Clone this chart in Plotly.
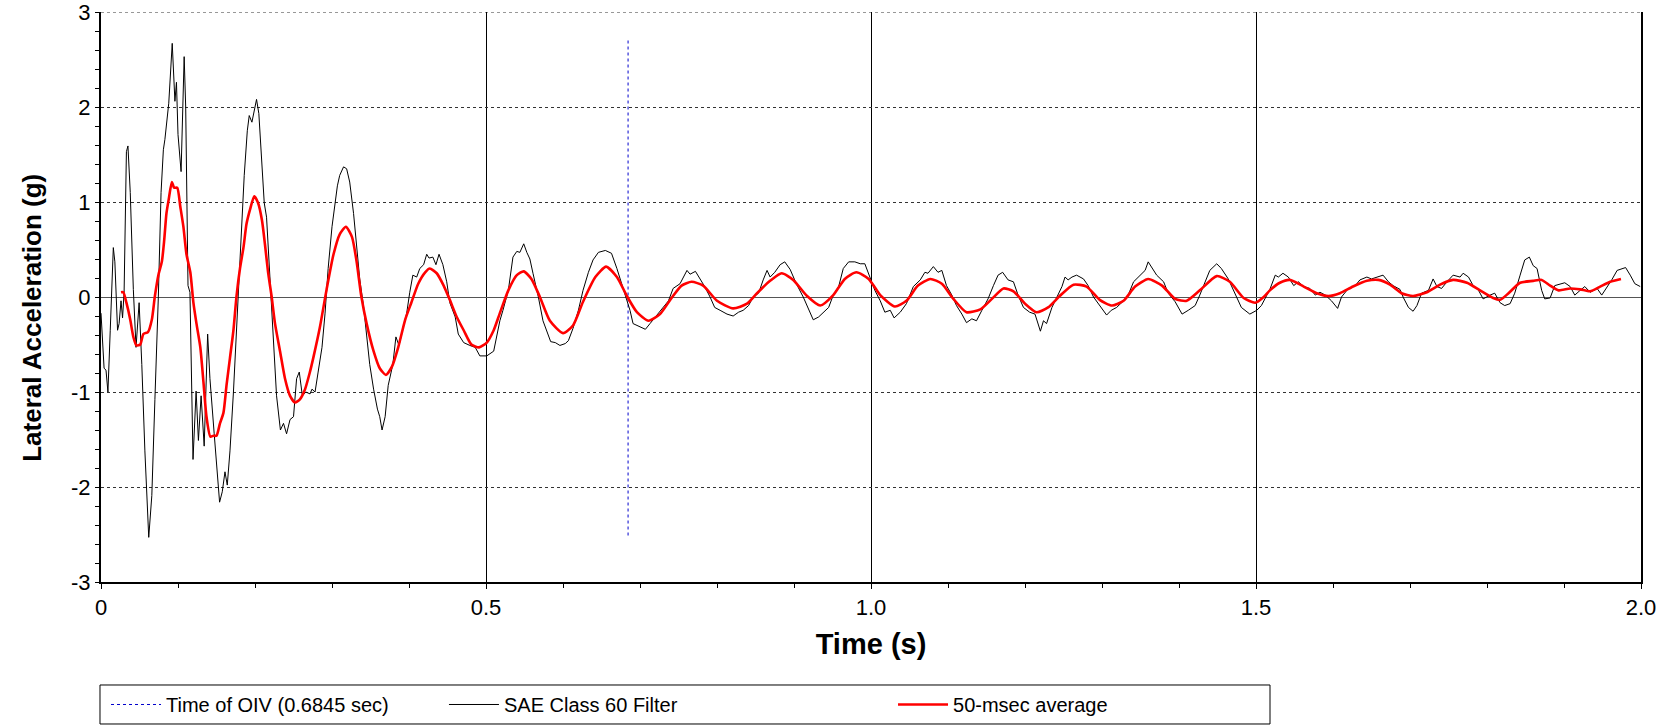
import plotly.graph_objects as go

# ---------------- data ----------------
oiv_time = 0.6845
oiv_y = [2.7, -2.52]

sae_t = [
    0.000, 0.002, 0.004, 0.0065, 0.009, 0.012, 0.016, 0.018, 0.0215, 0.0235, 0.026, 0.028, 0.030,
    0.033, 0.035, 0.038, 0.042, 0.0455, 0.0495, 0.053, 0.057, 0.062, 0.066, 0.070, 0.0745, 0.078,
    0.081, 0.083, 0.085, 0.088, 0.0925, 0.096, 0.098, 0.100, 0.104, 0.108, 0.110, 0.113, 0.1155,
    0.1195, 0.1235, 0.1265, 0.130, 0.134, 0.1385, 0.1415, 0.147, 0.150, 0.154, 0.1575, 0.161,
    0.164, 0.1675, 0.172, 0.176, 0.1805, 0.186, 0.190, 0.1925, 0.196, 0.199, 0.202, 0.205, 0.209,
    0.212, 0.215, 0.2195, 0.224, 0.228, 0.233, 0.237, 0.241, 0.2455, 0.250, 0.254, 0.2575, 0.2615,
    0.266, 0.2715,
    0.274, 0.278, 0.282, 0.287, 0.291, 0.295, 0.300, 0.304, 0.307, 0.310, 0.315, 0.319, 0.323,
    0.328, 0.332, 0.336, 0.341, 0.345, 0.349, 0.354, 0.359, 0.362, 0.365, 0.369, 0.373, 0.379,
    0.383, 0.387, 0.392, 0.397, 0.401, 0.405, 0.410, 0.414, 0.419, 0.423, 0.426, 0.431, 0.435,
    0.439, 0.444, 0.449, 0.453, 0.460, 0.464, 0.471, 0.479, 0.486, 0.492, 0.501, 0.510, 0.514,
    0.518,
    0.522, 0.529, 0.535, 0.540, 0.544, 0.549, 0.553, 0.557, 0.561, 0.568, 0.574, 0.581, 0.584,
    0.590, 0.596, 0.603, 0.607, 0.613, 0.620, 0.626, 0.633, 0.639, 0.646, 0.655, 0.663, 0.670,
    0.676, 0.683, 0.687, 0.691, 0.700, 0.707, 0.713, 0.720, 0.728, 0.737, 0.743, 0.752, 0.761,
    0.765, 0.772, 0.778, 0.784, 0.791, 0.797, 0.804, 0.813, 0.821, 0.828, 0.834, 0.841, 0.847,
    0.854, 0.860, 0.865, 0.869, 0.875, 0.882, 0.888, 0.895, 0.903, 0.912, 0.919, 0.925, 0.932,
    0.938, 0.945, 0.951, 0.958, 0.964, 0.971, 0.979, 0.986, 0.992, 0.999, 1.005, 1.012,
    1.018, 1.025, 1.030, 1.038, 1.046, 1.055, 1.064, 1.070, 1.074, 1.081, 1.087, 1.092, 1.098,
    1.105, 1.111, 1.118, 1.124, 1.131, 1.137, 1.144, 1.152, 1.159, 1.165, 1.171, 1.178, 1.185,
    1.191, 1.198, 1.206, 1.213, 1.217, 1.220, 1.224, 1.228, 1.235, 1.241, 1.248, 1.252, 1.256,
    1.261, 1.267, 1.276, 1.282, 1.289, 1.297, 1.306, 1.312, 1.319, 1.328, 1.334, 1.341, 1.349,
    1.356, 1.360, 1.365, 1.371, 1.380, 1.386, 1.395, 1.404, 1.412, 1.421, 1.427, 1.434, 1.440,
    1.449, 1.455, 1.464, 1.473, 1.481, 1.492, 1.501, 1.507, 1.512, 1.518,
    1.525, 1.529, 1.535, 1.542, 1.549, 1.555, 1.562, 1.570, 1.577, 1.583, 1.590, 1.598, 1.606,
    1.611, 1.620, 1.629, 1.635, 1.644, 1.650, 1.657, 1.665, 1.672, 1.678, 1.687, 1.691, 1.698,
    1.704, 1.709, 1.715, 1.724, 1.730, 1.735, 1.741, 1.748, 1.756, 1.765, 1.769, 1.776, 1.782,
    1.789, 1.795, 1.804, 1.810, 1.817, 1.823, 1.830, 1.836, 1.843, 1.849, 1.855, 1.860, 1.865,
    1.871, 1.875, 1.882, 1.888, 1.895, 1.901, 1.908, 1.914, 1.921, 1.927, 1.934, 1.943, 1.949,
    1.955, 1.962, 1.969, 1.975, 1.980, 1.986, 1.992, 1.999,
]
sae_g = [
    -0.17, -0.53, -0.75, -0.77, -1.00, -0.35, 0.52, 0.37, -0.35, -0.28, -0.04, -0.22, 0.05,
    1.53, 1.59, 1.10, 0.08, -0.53, -0.06, -0.71, -1.62, -2.53, -2.09, -1.08, 0.01, 1.10,
    1.55, 1.66, 1.82, 2.04, 2.67, 2.06, 2.26, 1.71, 1.32, 2.53, 2.00, 0.12, 0.05,
    -1.71, -0.99, -1.51, -1.04, -1.57, -0.39, -0.86, -1.44, -1.73, -2.16, -2.05, -1.84,
    -1.98, -1.62, -1.00, -0.35, 0.45, 1.28, 1.75, 1.91, 1.84, 1.97, 2.08, 1.93, 1.39,
    0.99, 0.84, 0.19, -0.53, -1.04, -1.40, -1.33, -1.44, -1.29, -1.26, -0.86, -0.79, -1.04,
    -1.00, -1.02,
    -0.97, -1.00, -0.79, -0.53, -0.17, 0.30, 0.74, 0.99, 1.17, 1.28, 1.37, 1.35, 1.21,
    0.88, 0.55, 0.19, -0.10, -0.42, -0.71, -0.97, -1.18, -1.26, -1.40, -1.26, -0.93, -0.71,
    -0.42, -0.51, -0.35, -0.17, 0.05, 0.23, 0.21, 0.30, 0.34, 0.45, 0.41, 0.42, 0.34,
    0.45, 0.34, 0.16, -0.06, -0.21, -0.39, -0.48, -0.51, -0.53, -0.62, -0.62, -0.57, -0.42,
    -0.25,
    -0.14, 0.07, 0.42, 0.48, 0.47, 0.56, 0.47, 0.40, 0.25, 0.00, -0.25, -0.42, -0.47,
    -0.48, -0.51, -0.49, -0.46, -0.33, -0.14, 0.07, 0.26, 0.39, 0.47, 0.49, 0.46, 0.30,
    0.14, -0.02, -0.14, -0.28, -0.31, -0.34, -0.28, -0.21, -0.14, -0.04, 0.09, 0.14, 0.28,
    0.24, 0.27, 0.19, 0.11, 0.00, -0.11, -0.14, -0.18, -0.20, -0.16, -0.14, -0.09, 0.00,
    0.04, 0.18, 0.28, 0.21, 0.26, 0.34, 0.37, 0.29, 0.14, 0.00, -0.14, -0.24, -0.21,
    -0.16, -0.11, 0.02, 0.11, 0.30, 0.37, 0.37, 0.35, 0.35, 0.21, 0.07, -0.04,
    -0.16, -0.14, -0.22, -0.16, -0.07, 0.11, 0.18, 0.26, 0.25, 0.32, 0.26, 0.28, 0.12,
    0.02, -0.09, -0.18, -0.27, -0.23, -0.25, -0.14, -0.02, 0.12, 0.23, 0.26, 0.18, 0.16,
    0.02, -0.11, -0.16, -0.18, -0.28, -0.36, -0.25, -0.28, -0.11, 0.00, 0.11, 0.21, 0.18,
    0.21, 0.23, 0.19, 0.12, 0.00, -0.09, -0.19, -0.14, -0.11, -0.04, 0.02, 0.16, 0.23,
    0.28, 0.37, 0.30, 0.23, 0.16, 0.04, -0.05, -0.18, -0.14, -0.09, 0.02, 0.16, 0.28,
    0.35, 0.30, 0.19, 0.04, -0.11, -0.18, -0.14, -0.09, -0.01, 0.08,
    0.23, 0.21, 0.25, 0.21, 0.12, 0.16, 0.11, 0.09, 0.02, 0.05, 0.02, -0.04, -0.12,
    0.00, 0.09, 0.12, 0.18, 0.21, 0.19, 0.21, 0.23, 0.16, 0.12, 0.08, 0.00, -0.11,
    -0.15, -0.09, 0.04, 0.07, 0.19, 0.11, 0.09, 0.16, 0.23, 0.21, 0.25, 0.21, 0.12,
    0.07, -0.02, 0.02, 0.04, -0.06, -0.09, -0.07, 0.04, 0.23, 0.39, 0.42, 0.33, 0.30,
    0.07, -0.02, -0.01, 0.12, 0.14, 0.15, 0.11, 0.02, 0.07, 0.11, 0.05, 0.09, 0.02,
    0.09, 0.18, 0.28, 0.30, 0.31, 0.23, 0.14, 0.11,
]

avg_t = [
    0.026, 0.029, 0.033, 0.038, 0.042, 0.046, 0.051, 0.055, 0.061, 0.066, 0.070, 0.0745, 0.079,
    0.082, 0.085, 0.088, 0.092, 0.095, 0.099, 0.103, 0.107, 0.111, 0.116, 0.120, 0.124, 0.129,
    0.133, 0.137, 0.142, 0.146, 0.150, 0.1545, 0.159, 0.163, 0.1675, 0.172, 0.176, 0.1805, 0.185,
    0.189, 0.1935, 0.199, 0.204, 0.209, 0.213, 0.217, 0.2215, 0.226, 0.2325, 0.239, 0.2455, 0.252,
    0.258, 0.265, 0.271, 0.276, 0.284, 0.293,
    0.302, 0.310, 0.318, 0.326, 0.332, 0.338, 0.345, 0.354, 0.362, 0.370, 0.378, 0.386, 0.395,
    0.403, 0.412, 0.421, 0.427, 0.436, 0.445, 0.453, 0.462, 0.471, 0.481, 0.491, 0.501, 0.510,
    0.518,
    0.529, 0.540, 0.549, 0.559, 0.570, 0.583, 0.600, 0.613, 0.626, 0.642, 0.656, 0.670, 0.683,
    0.696, 0.711, 0.726, 0.741, 0.754, 0.767, 0.782, 0.800, 0.821, 0.839, 0.852, 0.869, 0.884,
    0.899, 0.917, 0.934, 0.951, 0.966, 0.981, 0.997,
    1.012, 1.031, 1.046, 1.061, 1.077, 1.092, 1.107, 1.124, 1.142, 1.157, 1.172, 1.185, 1.200,
    1.215, 1.230, 1.245, 1.263, 1.280, 1.297, 1.313, 1.328, 1.343, 1.360, 1.378, 1.395, 1.410,
    1.427, 1.449, 1.466, 1.484, 1.499, 1.510,
    1.518, 1.531, 1.544, 1.562, 1.579, 1.594, 1.609, 1.626, 1.644, 1.659, 1.674, 1.689, 1.704,
    1.722, 1.739, 1.756, 1.774, 1.791, 1.808, 1.817, 1.828, 1.843, 1.860, 1.871, 1.882, 1.893,
    1.908, 1.921, 1.934, 1.947, 1.960, 1.974,
]
avg_g = [
    0.05, 0.05, -0.06, -0.24, -0.42, -0.51, -0.50, -0.39, -0.37, -0.24, 0.01, 0.23, 0.37,
    0.59, 0.88, 1.03, 1.21, 1.15, 1.15, 0.95, 0.74, 0.45, 0.26, -0.06, -0.28, -0.53,
    -0.89, -1.26, -1.47, -1.46, -1.46, -1.33, -1.22, -0.93, -0.64, -0.35, 0.01, 0.30, 0.52,
    0.77, 0.92, 1.06, 0.99, 0.81, 0.55, 0.26, 0.01, -0.28, -0.57, -0.86, -1.04, -1.11,
    -1.08, -0.97, -0.80, -0.63, -0.33, 0.08,
    0.45, 0.66, 0.74, 0.63, 0.37, 0.01, -0.28, -0.57, -0.75, -0.82, -0.73, -0.53, -0.24,
    -0.06, 0.14, 0.26, 0.30, 0.25, 0.12, -0.03, -0.21, -0.35, -0.50, -0.53, -0.48, -0.35,
    -0.17,
    0.07, 0.23, 0.27, 0.19, 0.00, -0.25, -0.38, -0.30, -0.05, 0.21, 0.32, 0.21, 0.01,
    -0.16, -0.25, -0.18, -0.01, 0.12, 0.16, 0.12, -0.04, -0.12, -0.07, 0.04, 0.17, 0.25,
    0.18, 0.01, -0.09, 0.02, 0.19, 0.26, 0.19,
    0.02, -0.10, -0.04, 0.12, 0.19, 0.14, -0.02, -0.16, -0.13, -0.02, 0.09, 0.06, -0.07,
    -0.16, -0.11, 0.01, 0.13, 0.11, -0.03, -0.09, -0.04, 0.11, 0.19, 0.12, -0.02, -0.04,
    0.07, 0.22, 0.16, -0.01, -0.06, 0.00,
    0.07, 0.15, 0.18, 0.11, 0.04, 0.01, 0.04, 0.11, 0.17, 0.18, 0.13, 0.04, 0.01,
    0.05, 0.13, 0.18, 0.15, 0.07, -0.01, -0.03, 0.04, 0.15, 0.17, 0.18, 0.12, 0.07,
    0.09, 0.08, 0.06, 0.11, 0.16, 0.19,
]

x_tickvals = [0, 0.5, 1.0, 1.5, 2.0]
x_ticktext = ["0", "0.5", "1.0", "1.5", "2.0"]
y_tickvals = [-3, -2, -1, 0, 1, 2, 3]
y_ticktext = ["-3", "-2", "-1", "0", "1", "2", "3"]

FONT = "Arial, 'Liberation Sans', sans-serif"

# ---------------- figure ----------------
fig = go.Figure()

fig.add_trace(go.Scatter(
    x=[oiv_time, oiv_time], y=oiv_y, mode="lines",
    name="Time of OIV (0.6845 sec)", legend="legend",
    line=dict(color="#0000cc", width=1, dash="dot"),
))
fig.add_trace(go.Scatter(
    x=sae_t, y=sae_g, mode="lines",
    name="SAE Class 60 Filter", legend="legend2",
    line=dict(color="black", width=1),
))
fig.add_trace(go.Scatter(
    x=avg_t, y=avg_g, mode="lines",
    name="50-msec average", legend="legend3",
    line=dict(color="#ff0000", width=2.6, shape="spline", smoothing=0.6),
))

# dotted top border of the plotting area (frame decoration)
fig.add_shape(type="line", xref="paper", x0=0, x1=1, yref="y", y0=3, y1=3,
              line=dict(color="#333333", width=1, dash="dot"), layer="below")

# frame around the legend row
fig.add_shape(type="rect", xref="paper", yref="paper",
              x0=-0.00065, x1=0.7591, y0=-0.2491, y1=-0.1807,
              line=dict(color="black", width=1), fillcolor="rgba(0,0,0,0)")

# y-axis title (placed slightly below the axis centre, as in the original)
fig.add_annotation(
    text="<b>Lateral Acceleration (g)</b>", textangle=-90,
    xref="paper", yref="paper", x=-0.045, y=0.463,
    xanchor="center", yanchor="middle", showarrow=False,
    font=dict(family=FONT, size=26, color="black"),
)

legend_common = dict(
    orientation="h", xanchor="left", y=-0.1807, yanchor="top",
    borderwidth=0, bgcolor="rgba(0,0,0,0)",
    font=dict(family=FONT, size=20, color="black"),
    itemwidth=50,
)

fig.update_layout(
    width=1669, height=725,
    margin=dict(l=101, r=28, t=12, b=143, autoexpand=False),
    paper_bgcolor="white", plot_bgcolor="white",
    font=dict(family=FONT, color="black", size=20),
    showlegend=True,
    legend=dict(x=0.00325, **legend_common),
    legend2=dict(x=0.2227, **legend_common),
    legend3=dict(x=0.5143, **legend_common),
    xaxis=dict(
        range=[0, 2], tickmode="array", tickvals=x_tickvals, ticktext=x_ticktext,
        showgrid=True, gridcolor="black", gridwidth=1,
        zeroline=False,
        showline=True, linecolor="black", linewidth=2, mirror=False,
        ticks="outside", ticklen=5, tickcolor="black", tickwidth=1,
        minor=dict(dtick=0.1, tick0=0, ticks="outside", ticklen=4, tickcolor="black", showgrid=False),
        tickfont=dict(family=FONT, size=22),
        title=dict(text="<b>Time (s)</b>", font=dict(family=FONT, size=29), standoff=14),
        automargin=False,
    ),
    yaxis=dict(
        range=[-3, 3], tickmode="array", tickvals=y_tickvals, ticktext=y_ticktext,
        showgrid=True, gridcolor="#333333", gridwidth=1, griddash="dot",
        zeroline=True, zerolinecolor="#555555", zerolinewidth=1,
        showline=True, linecolor="black", linewidth=2, mirror=True,
        ticks="outside", ticklen=4, tickcolor="black", tickwidth=1,
        minor=dict(dtick=0.2, tick0=0, ticks="outside", ticklen=4, tickcolor="black", showgrid=False),
        tickfont=dict(family=FONT, size=22),
        ticklabeloverflow="allow",
        automargin=False,
    ),
)

fig.write_html(
    "out.html",
    config={"displayModeBar": False},
    post_script="document.body.style.margin='0';",
)
